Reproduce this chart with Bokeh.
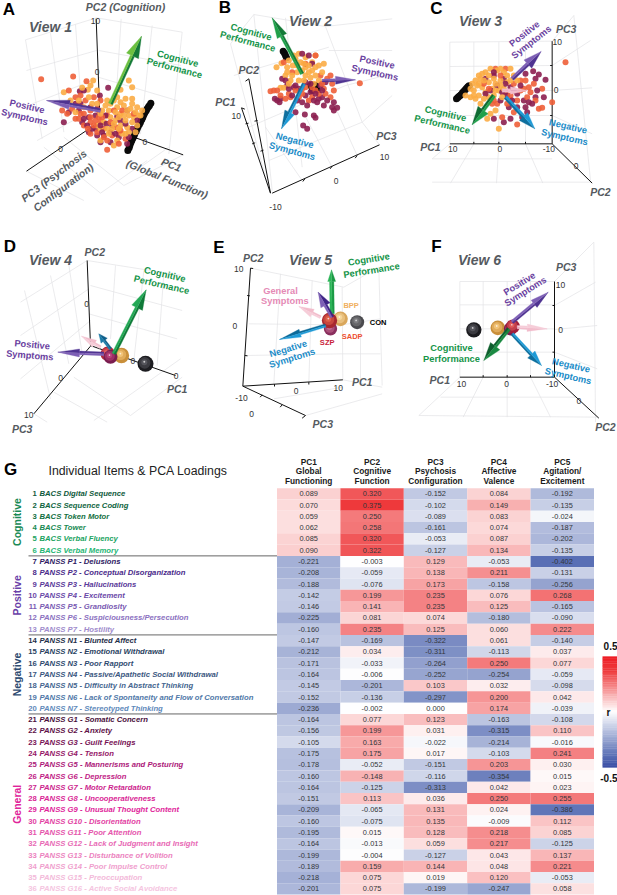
import numpy as np
from bokeh.plotting import figure
from bokeh.layouts import column, row
from bokeh.models import Range1d, ColumnDataSource, LinearColorMapper
from bokeh.core.properties import value
from bokeh.embed import file_html
from bokeh.resources import INLINE

FONT = value("Liberation Sans")

# ---------- table data ----------
items = ["BACS Digital Sequence","BACS Sequence Coding","BACS Token Motor","BACS Tower","BACS Verbal Fluency","BACS Verbal Memory",
"PANSS P1 - Delusions","PANSS P2 - Conceptual Disorganization","PANSS P3 - Hallucinations","PANSS P4 - Excitement","PANSS P5 - Grandiosity","PANSS P6 - Suspiciousness/Persecution","PANSS P7 - Hostility",
"PANSS N1 - Blunted Affect","PANSS N2 - Emotional Withdrawal","PANSS N3 - Poor Rapport","PANSS N4 - Passive/Apathetic Social Withdrawal","PANSS N5 - Difficulty in Abstract Thinking","PANSS N6 - Lack of Spontaneity and Flow of Conversation","PANSS N7 - Stereotyped Thinking",
"PANSS G1 - Somatic Concern","PANSS G2 - Anxiety","PANSS G3 - Guilt Feelings","PANSS G4 - Tension","PANSS G5 - Mannerisms and Posturing","PANSS G6 - Depression","PANSS G7 - Motor Retardation","PANSS G8 - Uncooperativeness","PANSS G9 - Unusual Thought Content","PANSS G10 - Disorientation","PANSS G11 - Poor Attention","PANSS G12 - Lack of Judgment and Insight","PANSS G13 - Disturbance of Volition","PANSS G14 - Poor Impulse Control","PANSS G15 - Preoccupation","PANSS G16 - Active Social Avoidance"]
item_colors = ["#0f5a3c","#10663f","#12703f","#178a52","#1aa35f","#25b573",
"#2f1a63","#4a2a8a","#5b3a9a","#6a49a8","#7a5bb3","#8b71bf","#a08ccc",
"#1f2f4a","#2a3f5f","#2f4a70","#3a5680","#456690","#5078a8","#5f8abb",
"#4a0f3c","#5e1048","#781356","#951768","#ad1a7a","#c11d86","#cc1f8e","#d91f95","#e0249a","#e23fa3","#e554ab","#e86ab5","#ec83c0","#f09fce","#f3bada","#f5c5df"]
pc1 = [.089,.070,.059,.062,.085,.090,-.221,-.208,-.188,-.142,-.146,-.225,-.160,-.147,-.212,-.171,-.164,-.145,-.152,-.236,-.164,-.156,-.105,-.175,-.178,-.160,-.164,-.151,-.209,-.160,-.195,-.164,-.199,-.189,-.218,-.201]
pc2 = [.320,.375,.250,.258,.320,.322,-.003,-.059,-.076,.199,.141,.081,.235,-.169,.034,-.033,-.006,-.201,-.136,-.002,.077,.199,.163,.175,-.052,-.148,-.125,.113,-.065,-.075,.015,-.013,-.004,.159,.075,.075]
pc3 = [-.152,-.102,-.089,-.161,-.053,-.127,.129,.138,.173,.235,.235,.074,.125,-.322,-.311,-.264,-.252,.103,-.297,.000,.123,.031,-.022,.017,-.151,-.116,-.313,.036,.131,.135,.128,.059,-.127,.144,.019,-.199]
pc4 = [.084,.149,.083,.074,.087,.134,-.053,.211,-.158,.076,.125,-.180,.060,.061,-.113,.250,-.254,.032,.200,.174,-.163,-.315,-.214,-.103,.203,-.354,.042,.250,.024,-.009,.218,.217,.043,.048,.120,-.247]
pc5 = [-.192,-.135,-.024,-.187,-.202,-.135,-.402,-.131,-.256,.268,-.165,-.090,.222,-.140,.037,.077,-.059,-.098,.042,-.039,-.108,.110,-.016,.241,.030,.015,.023,.255,-.386,.112,.085,-.125,.137,.221,-.053,.058]
columns_head = [["PC1","Global","Functioning"],["PC2","Cognitive","Function"],["PC3","Psychosis","Configuration"],["PC4","Affective","Valence"],["PC5","Agitation/","Excitement"]]
sections = [("Cognitive",0,6,"#1a8a55"),("Positive",6,13,"#6a3fa8"),("Negative",13,20,"#2d4a70"),("General",20,36,"#e0249a")]

# ---------- scatter ----------
a_orange = [(190,275),(270,255),(290,270),(262,268),(385,240),(395,260),(360,268),(395,295),(375,295),(340,300),(315,315),(325,330),(350,320),(370,315),(390,325),(410,320),(360,340),(385,345),(345,360),(400,350),(415,345),(330,350),(310,365),(300,385),(290,375),(360,375),(380,380),(410,375),(340,435),(350,420),(300,420),(385,395),(365,400),(420,345),(405,395),(250,320),(235,300),(210,300),(225,335),(320,300),(350,290),(305,330),(375,360),(395,365),(335,385),(345,335),(330,310),(360,305),(380,330),(405,335),(425,330),(395,310),(355,350),(370,345),(340,370),(320,385),(375,400),(355,385),(325,400),(275,310),(290,310),(265,290),(245,262),(278,240),(300,340)]
a_red = [(122,236),(218,228),(258,242),(240,285),(205,270),(225,290),(255,300),(280,290),(300,300),(200,340),(185,330),(215,325),(250,340),(270,330),(295,350),(320,345),(270,365),(250,375),(290,395),(310,385),(320,420),(320,448),(300,365),(340,330),(270,400),(335,405),(355,395),(235,355),(375,415),(262,385),(280,375),(305,350),(330,365),(270,350),(285,360),(240,340),(225,355),(360,390),(345,380),(295,330),(310,410),(355,430),(400,340),(365,330)]
a_maroon = [(238,272),(298,285),(323,262),(190,365),(205,335),(240,310),(265,350),(245,365),(285,345),(350,348),(380,330),(335,375),(290,405),(265,395),(310,405),(285,385),(330,425),(355,410),(380,430),(300,425),(395,385),(360,360),(410,360),(318,370),(225,310),(250,270),(290,325),(315,345),(275,385),(260,375),(300,375),(345,400),(375,370),(250,355),(270,320),(235,330),(385,410),(305,395),(330,395)]
a_con = [(382,450),(386,442),(388,435),(391,427),(394,420),(397,413),(400,407),(403,400),(407,392),(410,385),(413,378),(417,371),(420,365),(424,357),(427,350),(430,343),(433,337),(437,331),(440,325),(444,319),(447,315),(451,308)]
b_orange = [(213,200),(228,188),(245,200),(265,165),(280,160),(300,170),(330,165),(285,185),(262,195),(240,225),(225,262),(235,262),(255,240),(275,215),(300,200),(320,210),(340,195),(320,185),(350,215),(300,225),(280,240),(340,240),(315,232),(355,190),(250,180),(275,195),(295,190),(310,195),(330,200),(290,210),(310,215),(330,225),(260,225),(245,215),(295,240),(325,250),(270,175),(250,250)]
b_red = [(463,248),(205,270),(195,272),(225,285),(240,295),(255,290),(300,260),(270,270),(345,225),(365,235),(380,250),(375,225),(355,265),(340,280),(375,290),(385,270),(310,300),(280,290),(260,215),(330,165),(300,190),(235,185),(320,260),(360,280),(290,265),(330,270),(250,280),(350,250),(290,280),(320,290),(215,270)]
b_maroon = [(208,295),(215,300),(222,305),(225,295),(230,235),(245,255),(265,260),(280,265),(300,285),(315,275),(340,295),(350,290),(335,305),(385,305),(395,322),(380,320),(355,315),(290,305),(270,335),(298,342),(325,345),(330,352),(293,375),(305,385),(320,190),(345,255),(360,245),(300,245),(250,265),(240,240),(385,330),(310,165),(290,160),(325,300),(305,315),(365,300),(260,285),(275,300),(330,280),(350,270),(270,255),(315,250)]
b_con = [(233,152),(237,158),(240,165),(243,172),(315,255),(325,262),(335,268),(320,270),(330,255)]
c_orange = [(165,285),(180,290),(190,270),(200,255),(210,235),(225,215),(240,205),(260,210),(195,240),(215,260),(235,245),(250,235),(280,215),(300,205),(310,225),(270,240),(290,245),(180,265),(205,285),(225,275),(245,265),(265,270),(210,310),(230,355),(265,385),(255,330),(240,340),(280,265),(320,240),(215,220),(235,290),(190,285),(205,250),(220,240),(235,225),(255,250),(270,255),(290,225),(250,285),(220,295),(185,250),(205,225),(300,240),(270,205),(255,270),(195,295),(275,290)]
c_red = [(465,185),(425,305),(285,205),(255,205),(330,240),(345,240),(355,260),(370,250),(395,265),(385,325),(395,322),(375,300),(320,372),(310,335),(330,270),(350,290),(300,300),(260,310),(245,310),(275,350),(220,250),(270,225),(285,275),(340,265),(310,250),(290,310),(250,300),(320,300),(235,265),(300,285),(360,275)]
c_maroon = [(368,212),(385,222),(405,238),(375,235),(345,220),(225,235),(250,225),(280,235),(300,260),(320,280),(340,300),(375,290),(400,290),(365,310),(345,320),(350,335),(320,320),(335,350),(300,355),(280,365),(250,355),(270,300),(240,270),(295,320),(310,270),(290,285),(260,255),(275,275),(330,255),(355,305),(305,300),(380,270),(285,250),(225,280),(250,215)]
c_con = [(138,295),(142,291),(145,288),(149,285),(152,282),(156,277),(160,272),(164,268),(168,263),(172,259),(176,256)]

GREEN_D, GREEN_M, GREEN_L = "#147a38", "#1fa04a", "#6cc040"
PURP_D, PURP_L = "#4f3391", "#7d5fb5"
BLUE_D, BLUE_L = "#0f6f9e", "#1e9ad6"
PINK = "#f2bccb"
GREY, ORANGE, RED, MAROON = "#e2e2e5", "#fbac45", "#ee5f38", "#8c1f50"
TXT = "#555a60"
GREEN_T, PURP_T, BLUE_T = "#149448", "#6a3fa0", "#1b8cc8"

# each view: panel units are a third of a pixel
views = {
"A": dict(letter=(25,27), view=("View 1",150,78),
  grid=[[(75,118),(288,52),(545,95)],[(150,98),(190,395)],[(225,72),(245,345)],[(75,118),(125,415)],[(362,55),(345,320)],[(455,75),(420,400)],[(545,95),(505,460)],[(295,150),(542,195)],[(293,230),(530,300)],[(78,210),(288,150)],[(95,310),(290,235)],[(110,420),(290,320)],[(130,440),(300,578)],[(190,410),(370,555)],[(78,512),(250,600)],[(300,578),(440,480)],[(370,555),(548,463)],[(290,345),(420,400)],[(420,500),(505,440)]],
  axes=[[(287,55),(298,345)],[(78,512),(280,375)],[(400,410),(548,463)]],
  ticks=[("10",285,60),("0",290,215),("0",180,445),("0",433,425)],
  labels=[("PC2 (Cognition)",375,18,0,10.5,TXT),("PC3 (Psychosis",160,525,37,10.5,TXT),("Configuration)",188,560,37,10.5,TXT),("PC1",513,492,-22,10.5,TXT),("(Global Function)",500,535,-22,10.5,TXT)],
  names=[("Cognitive",532,175,-15,GREEN_T),("Performance",522,203,-15,GREEN_T),("Positive",80,318,-13,PURP_T),("Symptoms",72,350,-13,PURP_T)],
  cloud=(a_orange,a_red,a_maroon,a_con),
  arrows=[((330,310),(423,107),13,65,40,GREEN_D,GREEN_L),((300,330),(138,300),12,70,28,PURP_D,PURP_L)], spheres=[]),
"B": dict(letter=(58,22), view=("View 2",315,62),
  grid=[[(75,130),(145,42),(360,78),(560,55)],[(360,78),(470,365)],[(75,130),(190,570)],[(145,42),(200,570)],[(240,52),(290,500)],[(470,365),(560,285)],[(85,225),(370,140)],[(130,380),(420,255)],[(370,150),(560,150)],[(420,255),(560,220)],[(190,480),(470,365)],[(290,540),(180,380)],[(380,500),(290,330)],[(455,465),(380,300)],[(522,433),(470,365)]],
  axes=[[(108,322),(195,578)],[(130,235),(195,578)],[(200,578),(522,433)],[(130,235),(120,242)],[(108,322),(118,326)],[(298,535),(292,543)],[(380,497),(374,505)],[(455,465),(449,473)],[(147,362),(156,360)],[(165,452),(174,449)],[(120,370),(129,368)],[(140,430),(149,427)]],
  ticks=[("10",92,347),("-10",210,618),("0",392,540),("10",537,470)],
  labels=[("PC2",130,208,0,10.5,TXT),("PC1",60,305,0,10.5,TXT),("PC3",543,405,0,10.5,TXT)],
  names=[("Cognitive",137,95,-15,GREEN_T),("Performance",127,123,-15,GREEN_T),("Positive",515,185,-12,PURP_T),("Symptoms",508,217,-12,PURP_T),("Negative",268,420,-15,BLUE_T),("Symptoms",260,452,-15,BLUE_T)],
  cloud=(b_orange,b_red,b_maroon,b_con),
  arrows=[((290,220),(200,52),11,62,32,GREEN_D,GREEN_M),((295,250),(228,385),11,55,32,BLUE_D,BLUE_L),((350,240),(450,238),9,60,24,PURP_D,PURP_L)], spheres=[]),
"C": dict(letter=(78,25), view=("View 3",210,62),
  grid=[[(118,125),(425,122)],[(118,198),(425,195)],[(118,270),(425,270)],[(118,345),(425,345)],[(118,125),(118,430)],[(190,125),(190,430)],[(265,125),(265,430)],[(345,125),(345,430)],[(425,195),(540,120)],[(425,122),(490,45)],[(425,270),(545,262)],[(425,345),(545,400)],[(490,45),(540,540)],[(118,430),(65,475),(425,475)],[(65,545),(545,545)],[(190,430),(120,548)],[(265,430),(258,548)],[(345,430),(397,548)]],
  axes=[[(425,122),(425,430)],[(118,430),(425,430)],[(425,430),(545,548)],[(190,430),(190,424)],[(265,430),(265,424)],[(345,430),(345,424)],[(425,195),(419,195)],[(425,345),(419,345)]],
  ticks=[("10",440,125),("0",437,268),("10",127,445),("0",268,445),("-10",415,445),("0",497,497)],
  labels=[("PC3",467,85,0,10.5,TXT),("PC1",60,438,0,10.5,TXT),("PC2",570,573,0,10.5,TXT)],
  names=[("Positive",342,100,38,PURP_T),("Symptoms",363,125,38,PURP_T),("Cognitive",105,340,-13,GREEN_T),("Performance",95,372,-13,GREEN_T),("Negative",473,378,-13,BLUE_T),("Symptoms",462,410,-13,BLUE_T)],
  cloud=(c_orange,c_red,c_maroon,c_con),
  arrows=[((275,270),(350,270),10,50,22,PINK,PINK),((305,235),(392,153),12,55,34,PURP_D,PURP_L),((250,285),(185,373),13,55,38,"#0f6a32",GREEN_M),((285,290),(373,385),12,50,34,BLUE_D,BLUE_L)], spheres=[]),
"D": dict(letter=(28,62), view=("View 4",150,103),
  grid=[[(60,230),(260,105),(545,150)],[(150,150),(205,415)],[(205,118),(245,385)],[(72,195),(150,520)],[(345,120),(330,340)],[(430,135),(400,405)],[(490,145),(470,420)],[(270,180),(545,255)],[(265,265),(530,340)],[(60,330),(265,190)],[(60,460),(270,285)],[(160,500),(320,590)],[(220,455),(390,570)],[(100,565),(140,590)],[(280,585),(540,400)],[(390,570),(545,455)],[(270,362),(400,405)]],
  axes=[[(260,105),(270,360)],[(270,360),(525,450)],[(100,565),(270,362)]],
  ticks=[("0",258,235),("0",397,407),("0",527,452),("0",180,458),("10",85,568)],
  labels=[("PC2",283,80,0,10.5,TXT),("PC1",530,490,0,10.5,TXT),("PC3",65,610,0,10.5,TXT)],
  names=[("Cognitive",493,147,-13,GREEN_T),("Performance",483,178,-13,GREEN_T),("Positive",95,358,-5,PURP_T),("Symptoms",88,390,-5,PURP_T)],
  spheres=[(435,415,24,"#1c1c20","#55555c"),(363,390,23,"#c98f3a","#f2c377"),(322,385,22,"#b0283c","#e05a5a"),(330,394,21,"#7a1d4f","#b8407a")],
  arrows=[((300,365),(243,332),9,45,24,PINK,"#f6cdd8"),((330,370),(295,325),9,26,24,"#0f5f8a","#1a7ba8"),((340,385),(437,193),12,60,36,"#0f7a38","#23a855"),((310,385),(172,380),11,65,24,PURP_D,PURP_L)], cloud=None),
"E": dict(letter=(40,65), view=("View 5",315,103),
  grid=[[(135,128),(415,185),(520,125)],[(130,295),(410,298),(525,280)],[(120,390),(410,385),(525,385)],[(225,145),(205,475)],[(320,165),(310,470)],[(410,185),(412,463)],[(465,150),(465,470)],[(520,130),(530,480)],[(412,463),(530,485)],[(300,570),(530,505)],[(205,520),(412,485)]],
  axes=[[(135,128),(112,482)],[(112,482),(412,463)],[(112,482),(300,570)],[(135,128),(143,129)],[(125,210),(133,211)],[(118,390),(126,391)],[(207,476),(207,483)],[(310,470),(310,477)],[(170,508),(164,515)],[(230,538),(224,545)],[(300,570),(290,578)]],
  ticks=[("10",100,130),("0",88,300),("0",272,497),("10",398,487),("-10",108,517),("0",138,565)],
  labels=[("PC2",143,97,0,10.5,TXT),("PC1",470,470,0,10.5,TXT),("PC3",352,595,0,10.5,TXT)],
  names=[("Cognitive",490,102,9,GREEN_T),("Performance",498,135,9,GREEN_T),("General",225,195,0,"#e58ab5"),("Symptoms",238,225,0,"#e58ab5"),("Negative",248,370,17,BLUE_T),("Symptoms",260,398,17,BLUE_T)],
  spheres=[(455,290,21,"#4a4a4e","#7d7d80"),(405,280,22,"#d9a75c","#f6d69a"),(375,310,20,"#8a2f5e","#c56a90"),(372,285,23,"#a8282f","#e0604a")],
  arrows=[((345,275),(280,243),9,45,26,PINK,"#f6cdd8"),((380,265),(378,133),13,35,24,"#1a9a44","#2bb457"),((380,275),(338,200),11,45,32,"#3e2486",PURP_L),((360,300),(222,342),10,65,24,"#0c6a98",BLUE_L)], cloud=None),
"F": dict(letter=(78,62), view=("View 6",207,103),
  grid=[[(148,168),(432,168)],[(148,238),(432,238)],[(148,310),(432,310)],[(148,380),(432,380)],[(148,168),(148,455)],[(218,168),(218,455)],[(290,168),(290,455)],[(360,168),(360,455)],[(432,168),(550,50)],[(432,240),(555,170)],[(432,312),(560,300)],[(432,380),(560,430)],[(550,50),(555,590)],[(148,455),(25,570)],[(218,455),(158,575)],[(290,455),(290,575)],[(360,455),(420,575)],[(25,570),(565,575)],[(90,515),(500,515)]],
  axes=[[(432,168),(432,455)],[(148,455),(432,455)],[(432,455),(565,578)],[(218,455),(218,449)],[(290,455),(290,449)],[(360,455),(360,449)],[(432,240),(426,240)],[(432,380),(426,380)]],
  ticks=[("10",450,178),("0",450,312),("10",153,475),("0",288,475),("-10",425,475),("0",505,527)],
  labels=[("PC3",467,125,0,10.5,TXT),("PC1",88,462,0,10.5,TXT),("PC2",585,603,0,10.5,TXT)],
  names=[("Positive",327,175,32,PURP_T),("Symptoms",345,198,32,PURP_T),("Cognitive",123,367,0,GREEN_T),("Performance",123,400,0,GREEN_T),("Negative",482,420,-13,BLUE_T),("Symptoms",473,452,-13,BLUE_T)],
  spheres=[(190,313,23,"#1c1c20","#55555c"),(262,307,22,"#c98f3a","#f2c377"),(300,310,20,"#7a1d4f","#b8407a"),(307,303,21,"#a01f3c","#e05a5a")],
  arrows=[((320,305),(410,310),10,60,22,PINK,"#f6cdd8"),((305,290),(413,200),11,55,28,PURP_D,PURP_L),((305,325),(393,420),10,45,30,BLUE_D,BLUE_L),((295,310),(220,405),12,55,36,"#0f5f2e","#1a8a42")], cloud=None),
}
group_tags = [("BPP",437,240,"#f0b060"),("CON",518,290,"#000000"),("SADP",440,333,"#ee5030"),("SZP",365,350,"#c81e3c")]


def panel(x0, x1, y0, y1, w, h):
    p = figure(width=w, height=h, x_range=Range1d(x0, x1), y_range=Range1d(y1, y0),
               x_axis_location=None, y_axis_location=None, toolbar_location=None,
               output_backend="svg", min_border=0, outline_line_color=None)
    p.grid.visible = False
    return p


def put_text(p, txts, xs, ys, size, color, style="normal", angles=None, align="center"):
    p.text(xs, ys, text=txts, text_font=FONT, text_font_size=value(f"{size}px"),
           text_color=color, text_font_style=style, text_align=align,
           text_baseline="middle", angle=angles if angles is not None else 0,
           angle_units="deg")


def arrow(p, tail, tip, sw, hl, hw, c1, c2):
    t, e = np.array(tail, float), np.array(tip, float)
    u = (e - t) / np.hypot(*(e - t))
    n = np.array([-u[1], u[0]])
    b = e - u * hl
    for c, s in ((c1, 1), (c2, -1)):
        shaft = [t, b, b + s * n * sw / 2, t + s * n * sw / 2]
        head = [e, b, b + s * n * hw / 2]
        for poly in (shaft, head):
            p.patch([q[0] for q in poly], [q[1] for q in poly], color=c, line_color=c, line_width=.3)


def sphere(p, x, y, r, dark, light):
    p.circle([x], [y], radius=r, color=dark, line_color=None)
    p.circle([x - r * .1], [y - r * .12], radius=r * .72, color=light, alpha=.55, line_color=None)
    p.circle([x - r * .15], [y - r * .2], radius=r * .38, color=light, line_color=None)
    p.circle([x - r * .15], [y - r * .25], radius=r * .12, color="#ffffff", alpha=.7, line_color=None)


def draw_view(key, x0, x1, y0, y1, w, h):
    v = views[key]
    p = panel(x0, x1, y0, y1, w, h)
    p.multi_line([[q[0] for q in g] for g in v["grid"]], [[q[1] for q in g] for g in v["grid"]],
                 line_color=GREY, line_width=.7)
    p.multi_line([[q[0] for q in g] for g in v["axes"]], [[q[1] for q in g] for g in v["axes"]],
                 line_color="#111111", line_width=1)
    put_text(p, [t[0] for t in v["ticks"]], [t[1] for t in v["ticks"]], [t[2] for t in v["ticks"]], 8.5, "#333333")
    for t in v["labels"]:
        put_text(p, [t[0]], [t[1]], [t[2]], t[4], t[5], "bold italic", [t[3]])
    for t in v["names"]:
        put_text(p, [t[0]], [t[1]], [t[2]], 9.3, t[4], "bold", [t[3]])
    if v["cloud"]:
        o, r, m, c = v["cloud"]
        p.scatter([q[0] for q in c], [q[1] for q in c], size=7, color="#0a0a0a", line_color=None)
        # groups are interleaved so that no colour lies wholly on top
        mixed = []
        for k in range(max(len(o), len(r), len(m))):
            for pts, col in ((m, MAROON), (r, RED), (o, ORANGE)):
                if k < len(pts):
                    mixed.append((pts[k][0], pts[k][1], col))
        p.scatter([q[0] for q in mixed], [q[1] for q in mixed], size=6, color=[q[2] for q in mixed],
                  alpha=.9, line_color=None)
    for s in v["spheres"]:
        sphere(p, *s)
    for a in v["arrows"]:
        arrow(p, *a)
    put_text(p, [v["view"][0]], [v["view"][1]], [v["view"][2]], 14, TXT, "bold italic")
    put_text(p, [key], [v["letter"][0]], [v["letter"][1]], 17, "#000000", "bold")
    return p


pA = draw_view("A", 0, 630, 0, 675, 210, 225)
pB = draw_view("B", 15, 615, 0, 675, 200, 225)
pC = draw_view("C", 0, 621, 0, 675, 207, 225)
pD = draw_view("D", 0, 615, 0, 690, 205, 230)
pE = draw_view("E", 0, 615, 0, 690, 205, 230)
pF = draw_view("F", 0, 621, 0, 690, 207, 230)
for tag, x, y, col in group_tags:
    put_text(pE, [tag], [x], [y], 7.5, col, "bold")

# ---------- heat map ----------
anchors_v = [-.5, -.4, 0, .375, .5]
anchors_c = [(60,80,165), (90,112,181), (255,255,255), (238,58,60), (238,28,36)]
levels = np.linspace(-.5, .5, 256)
palette = ["#%02x%02x%02x" % tuple(int(round(np.interp(l, anchors_v, [c[i] for c in anchors_c]))) for i in range(3)) for l in levels]
mapper = LinearColorMapper(palette=palette, low=-.5, high=.5)

g = panel(0, 617, 455, 895, 617, 440)
X0, CW, Y0, RH = 276.5, 63.4, 487.65, 11.29
loadings = [pc1, pc2, pc3, pc4, pc5]
fx, fy, fv, ft = [], [], [], []
for j, col in enumerate(loadings):
    for i, val in enumerate(col):
        fx.append(X0 + CW * (j + .5))
        fy.append(Y0 + RH * (i + .5))
        # the PANSS G6 / PC2 cell is printed negative but coloured as positive in the source
        fv.append(abs(val) if (i == 25 and j == 1) else val)
        ft.append(f"{val:.3f}")
src = ColumnDataSource(dict(x=fx, y=fy, v=fv, t=ft))
g.rect("x", "y", width=CW, height=RH, source=src, fill_color={"field": "v", "transform": mapper}, line_color=None)
g.text("x", "y", text="t", source=src, text_font=FONT, text_font_size=value("7.4px"), text_color="#33363a",
       text_align="center", text_baseline="middle")

for j, head in enumerate(columns_head):
    for k, line in enumerate(head):
        put_text(g, [line], [X0 + CW * (j + .5)], [461 + k * 9.7], 8.3, "#1a1a1a", "bold")

nrows = len(items)
ys = [Y0 + RH * (i + .5) for i in range(nrows)]
for i in range(nrows):
    put_text(g, [str(i + 1)], [36.3], [ys[i]], 7.7, item_colors[i], "bold", align="right")
    put_text(g, [items[i]], [39], [ys[i]], 7.7, item_colors[i], "bold italic", align="left")
for name, a, b, col in sections:
    put_text(g, [name], [16.5], [Y0 + RH * (a + b) / 2], 10.5, col, "bold", [90])
for _, a, b, _c in sections[:-1]:
    g.line([28, X0], [Y0 + RH * b] * 2, line_color="#555555", line_width=.9)

put_text(g, ["G"], [10], [469], 17, "#000000", "bold")
put_text(g, ["Individual Items & PCA Loadings"], [48], [470], 12.3, "#222222", align="left")

bar = np.linspace(.5, -.5, 64)
bar_h = (767 - 656) / len(bar)
g.rect([609.5] * len(bar), [656 + bar_h * (k + .5) for k in range(len(bar))], width=15, height=bar_h + .3,
       fill_color=[palette[int((b + .5) * 255)] for b in bar], line_color=None)
put_text(g, ["0.5"], [617], [645], 10, "#111111", "bold", align="right")
put_text(g, ["-0.5"], [617], [777], 10, "#111111", "bold", align="right")
put_text(g, ["r"], [608], [712], 10, "#111111", "bold")

layout = column(row(pA, pB, pC, spacing=0), row(pD, pE, pF, spacing=0), g, spacing=0)
open("out.html", "w").write(file_html(layout, INLINE))
